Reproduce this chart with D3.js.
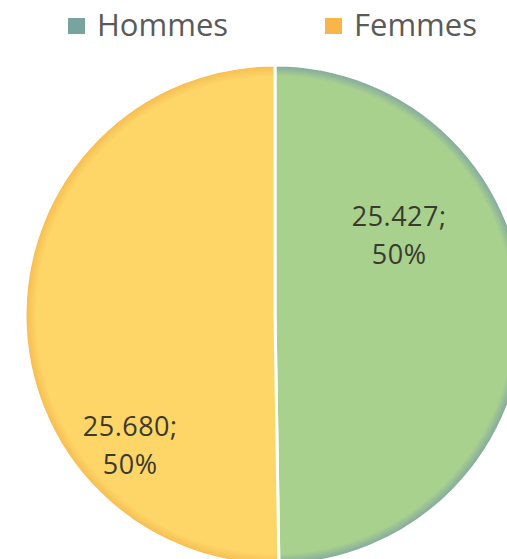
<!DOCTYPE html>
<html>
<head>
<meta charset="utf-8">
<script src="https://cdn.jsdelivr.net/npm/d3@7"></script>
<style>
  html, body { margin: 0; padding: 0; background: #fff; overflow: hidden; }
  svg { display: block; font-family: "Open Sans", sans-serif; }
</style>
</head>
<body>
<div id="chart"></div>
<script>
// data
var categories = ["Hommes", "Femmes"];
var values = [25427, 25680];
var valueLabels = ["25.427", "25.680"];

var width = 507, height = 559;
var cx = 275, cy = 315, radius = 250;

var svg = d3.select("#chart")
    .append("svg")
    .attr("width", width)
    .attr("height", height);

// colours: slice fill, slice edge, legend marker
var fillColor = d3.scaleOrdinal().domain(categories).range(["#a9d18e", "#fed567"]);
var edgeColor = d3.scaleOrdinal().domain(categories).range(["#80a69f", "#f5bb50"]);
var legendColor = d3.scaleOrdinal().domain(categories).range(["#79a39e", "#f7b54a"]);

// radial gradient so the rim gets darker like the office chart
// (user space of the slices is the translated group, so centre is 0,0)
var defs = svg.append("defs");
categories.forEach(function(c, i) {
    var g = defs.append("radialGradient")
        .attr("id", "grad" + i)
        .attr("gradientUnits", "userSpaceOnUse")
        .attr("cx", 0).attr("cy", 0).attr("r", radius);
    g.append("stop").attr("offset", "0%").attr("stop-color", fillColor(c));
    g.append("stop").attr("offset", "95.5%").attr("stop-color", fillColor(c));
    g.append("stop").attr("offset", "100%").attr("stop-color", edgeColor(c));
});

var data = categories.map(function(c, i) { return {name: c, value: values[i], label: valueLabels[i]}; });

var pie = d3.pie().sort(null).value(function(d) { return d.value; });
var arcs = pie(data);
var total = d3.sum(values);

var arc = d3.arc().innerRadius(0).outerRadius(radius);

var g = svg.append("g").attr("transform", "translate(" + cx + "," + cy + ")");

g.selectAll("path.slice")
    .data(arcs)
    .enter()
    .append("path")
    .attr("class", "slice")
    .attr("d", arc)
    .attr("fill", function(d, i) { return "url(#grad" + i + ")"; })
    .attr("stroke", "#ffffff")
    .attr("stroke-width", 3)
    .attr("stroke-linejoin", "round");

// label placement inside each slice (fraction of sweep, fraction of radius)
var labelPos = [{t: 0.32, f: 0.59}, {t: 0.27, f: 0.78}];

var labels = g.selectAll("text.lbl")
    .data(arcs)
    .enter()
    .append("text")
    .attr("class", "lbl")
    .attr("text-anchor", "middle")
    .attr("fill", "#3a3a2f")
    .style("font-size", "27px")
    .style("letter-spacing", "0.5px")
    .attr("transform", function(d, i) {
        var a = d.startAngle + labelPos[i].t * (d.endAngle - d.startAngle);
        var r = labelPos[i].f * radius;
        return "translate(" + (r * Math.sin(a)) + "," + (-r * Math.cos(a)) + ")";
    });

labels.append("tspan")
    .attr("x", 0)
    .attr("y", -9.5)
    .text(function(d) { return d.data.label + ";"; });

labels.append("tspan")
    .attr("x", 0)
    .attr("y", 28.5)
    .text(function(d) { return Math.round(d.value / total * 100) + "%"; });

// legend
var legendX = d3.scaleBand().domain(categories).range([68, 582]);

var legend = svg.selectAll("g.legend")
    .data(categories)
    .enter()
    .append("g")
    .attr("class", "legend")
    .attr("transform", function(d) { return "translate(" + legendX(d) + ",0)"; });

legend.append("rect")
    .attr("x", 0)
    .attr("y", 18)
    .attr("width", 17)
    .attr("height", 16)
    .attr("fill", function(d) { return legendColor(d); });

legend.append("text")
    .attr("x", 29)
    .attr("y", 36)
    .attr("fill", "#5a5a5a")
    .style("font-size", "31px")
    .text(function(d) { return d; });
</script>
</body>
</html>
